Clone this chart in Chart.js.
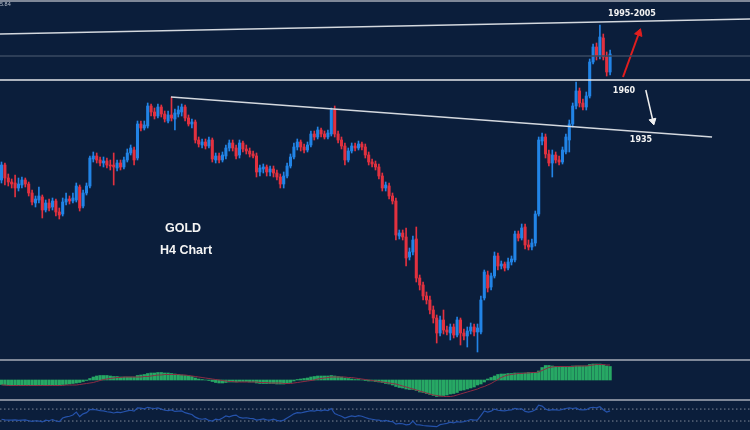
<!DOCTYPE html>
<html><head><meta charset="utf-8">
<script src="https://cdn.jsdelivr.net/npm/chart.js@4.4.0/dist/chart.umd.min.js"></script>
<style>
html,body{margin:0;padding:0;background:#0b1e3b;width:750px;height:430px;overflow:hidden;}
#wrap{position:relative;width:750px;height:430px;background:#0b1e3b;}
canvas{position:absolute;left:0;}
.sep{position:absolute;left:0;width:750px;height:2px;background:#7f8898;}
.lbl{position:absolute;color:#f2f2f2;font-family:"DejaVu Sans",sans-serif;font-weight:bold;font-size:8px;white-space:nowrap;line-height:1;transform:translateX(-50%);}
.big{position:absolute;color:#f4f4f4;font-family:"Liberation Sans",Arial,sans-serif;font-weight:bold;font-size:12.5px;white-space:nowrap;line-height:1;transform:translateX(-50%);}
.px{position:absolute;left:0;top:2px;color:#b9c0cc;font-family:"Liberation Sans",Arial,sans-serif;font-size:5.5px;line-height:1;}
</style></head>
<body><div id="wrap">
<div class="sep" style="top:0"></div>
<canvas id="main" width="750" height="357" style="top:2px"></canvas>
<div class="sep" style="top:359px"></div>
<canvas id="macd" width="750" height="38" style="top:361px"></canvas>
<div class="sep" style="top:399px"></div>
<canvas id="rsi" width="750" height="29" style="top:401px"></canvas>
<div class="px">5.84</div>
<div class="lbl" style="left:632px;top:10px">1995-2005</div>
<div class="lbl" style="left:624px;top:87px">1960</div>
<div class="lbl" style="left:641px;top:135.5px">1935</div>
<div class="big" style="left:183px;top:221.7px">GOLD</div>
<div class="big" style="left:186px;top:244.4px">H4 Chart</div>
</div>
<script>
// ---- price data (H4 candles) ----
const open = [
1910,1917.5,1911,1909,1908.5,1906,1907.5,1910,1908,1903.5,
1898.5,1900,1901.5,1895,1898.5,1896.5,1899.5,1894,1893,1899,
1900.5,1899.5,1900,1906.5,1897,1903.5,1907,1920.5,1922,1920,
1918.5,1919.5,1917.5,1917.5,1916,1918.5,1916.5,1920,1923.5,1925,
1921,1938,1936,1937,1947,1944,1942,1946.5,1943,1939.5,
1942.5,1940.5,1943,1944,1946.5,1941,1938,1939,1930,1927.5,
1929,1927,1930,1920,1922,1920,1922,1926,1928.5,1926,
1922.5,1928.5,1925.5,1924.5,1923,1922,1914,1915.5,1916.5,1914,
1915.5,1913.5,1911.5,1908,1912,1917,1921.5,1926.5,1929,1926.5,
1925,1927.5,1933,1931.5,1935,1933,1931.5,1933,1945,1933,
1930,1927,1920,1924.5,1927,1926,1928,1926.5,1922.5,1919,
1918,1916.5,1912,1906,1907,1902,1899.5,1882,1883.5,1881.5,
1871.5,1874,1880.5,1861,1857.5,1852,1850,1845,1841,1833.5,
1840,1835,1833.5,1836.5,1832.5,1840,1833.5,1832,1834.5,1836.5,
1834,1834,1851,1862.5,1856.5,1862,1872,1867,1868,1866,
1869,1870,1883,1881,1886.5,1877.5,1876.5,1878.5,1893,1929.5,
1931.5,1923,1918.5,1922.5,1920,1919,1924,1930,1938,1947,
1954.5,1948.5,1946.5,1952,1969,1976.5,1972,1981,1971.5,1964];
const high = [
1919,1918.5,1913,1910.5,1912.5,1911,1911.5,1911,1909,1905,
1902,1906.5,1902.5,1900,1900.5,1901,1900.5,1896,1901,1903.5,
1902,1903.5,1908.5,1907.5,1905,1908.5,1922,1924,1923.5,1921.5,
1921.5,1921,1920,1923.5,1920,1920,1921.5,1925.5,1927.5,1926.5,
1939.5,1939.5,1939.5,1948.5,1948,1946,1948,1947.5,1944.5,1944.5,
1951.5,1945.5,1947,1948,1947.5,1942.5,1940.5,1940,1931.5,1930.5,
1930.5,1931.5,1931,1923.5,1923.5,1924,1927.5,1930,1930,1927.5,
1930,1929.5,1927.5,1926,1924.5,1923.5,1917.5,1918,1917.5,1917,
1917,1915,1913,1914,1918.5,1923,1928.5,1930.5,1930,1928,
1929,1934.5,1934.5,1936.5,1936,1934.5,1935,1946,1947,1934.5,
1931.5,1928.5,1926,1928.5,1928.5,1929.5,1929,1928,1924,1920.5,
1919.5,1918,1913.5,1909,1908.5,1903.5,1901,1885,1885,1886,
1876,1882,1886.5,1862.5,1859,1854,1852,1847,1842.5,1842,
1845,1837,1838,1838,1841.5,1841,1835.5,1836.5,1838.5,1838,
1838,1852,1865,1864.5,1863.5,1874,1873.5,1869.5,1869,1871,
1872,1884.5,1884.5,1888,1888,1880,1880.5,1894.5,1931.5,1933.5,
1933,1925,1925,1924,1922,1926.5,1933,1940,1948.5,1959,
1956,1950.5,1954,1970.5,1978,1978.5,1987.5,1983,1974,1975];
const low = [
1908.5,1907.5,1907,1906,1901.5,1904.5,1906,1906.5,1902,1897.5,
1896.5,1898.5,1891,1894,1894.5,1895,1892,1890.5,1892,1897.5,
1898,1898.5,1899,1894.5,1896,1902.5,1906,1919,1918.5,1917,
1916.5,1916,1915,1907.5,1914.5,1915,1915.5,1919,1922.5,1917.5,
1920,1934.5,1935,1936,1942,1940.5,1941,1941.5,1939,1938.5,
1939.5,1935,1941.5,1942,1939.5,1937,1936,1928.5,1926.5,1926,
1925.5,1926,1919,1918.5,1918.5,1919,1920.5,1924.5,1924.5,1920.5,
1921,1924,1923,1921.5,1921,1911.5,1912,1913.5,1912,1912,
1911.5,1910,1906,1906,1911,1916,1920.5,1925,1924.5,1923.5,
1924,1926.5,1930,1930.5,1931.5,1930.5,1930.5,1932,1931.5,1928.5,
1925.5,1917.5,1919,1923.5,1924.5,1925,1925,1921,1917.5,1916.5,
1915,1910.5,1904.5,1904.5,1900.5,1898,1880,1880.5,1880,1867,
1870,1872.5,1859,1855,1850,1848,1843,1838.5,1828.5,1832,
1833,1832.5,1830,1831,1831.5,1827.5,1830,1826.5,1833,1832,
1824,1833,1850,1854,1855,1861,1865,1865.5,1864.5,1865,
1867.5,1869,1879.5,1880,1875.5,1875,1875,1877,1892,1927.5,
1921,1917,1911.5,1918.5,1917.5,1918,1923,1924,1936.5,1945.5,
1946.5,1945,1945,1951,1968,1970,1970.5,1970,1962,1962.5];
const close = [
1917.5,1911,1909,1908,1906,1908,1910,1908,1903.5,1899,
1900.5,1902,1895,1898.5,1896,1899.5,1894,1892.5,1899,1900.5,
1899.5,1901,1907,1896,1903.5,1907,1921,1922,1920,1918.5,
1919.5,1917.5,1917,1916.5,1918.5,1916.5,1920,1923.5,1926,1920,
1938,1936,1937.5,1947,1944,1942,1946.5,1943,1940.5,1942.5,
1941,1943.5,1945,1946.5,1941,1938,1939,1930,1928,1929,
1927,1930,1920.5,1922,1920,1922.5,1926,1928.5,1926,1922,
1928.5,1925.5,1924.5,1923,1922,1914,1916,1916.5,1914,1915.5,
1913.5,1911.5,1908,1912,1917,1921.5,1926.5,1929,1926.5,1925,
1927.5,1933,1931.5,1935,1933,1931.5,1933.5,1945,1933,1930,
1927,1920,1924.5,1927,1926,1928,1926.5,1922.5,1919,1918,
1916.5,1912,1906,1907.5,1902,1899.5,1882.5,1883.5,1881.5,1871,
1874,1880,1861,1857.5,1852,1850,1845,1841,1833.5,1840,
1835,1834,1836.5,1832.5,1840,1833.5,1832,1834.5,1836.5,1834,
1836,1850,1864,1856,1862,1872,1867,1868,1866,1869,
1870.5,1883,1881,1886,1877.5,1876.5,1878.5,1893,1930,1931.5,
1923,1918.5,1922.5,1920,1919,1925,1931.5,1938,1947,1954.5,
1948.5,1946.5,1952,1969,1976.5,1972,1981.5,1971.5,1964,1973];

// ---- MACD panel ----
const macdHist = [
-4.5,-5,-5,-5.5,-5,-5,-5.5,-5,-5,-5.5,
-5.5,-5,-5,-5.5,-5,-5,-5,-5,-4.5,-4.5,
-4,-3.5,-3,-2.5,-1.5,-0.5,1.5,3,4,4.5,
4.5,4.5,4,3.5,3.5,3,3,3,3,3,
4.5,5,5.5,6.5,7,7,7.5,7.5,7,7,
6.5,6,5.5,5,4.5,4,3.5,2,1,0.5,
0,-0.5,-1.5,-2.5,-3,-3,-2.5,-2,-2,-2,
-1.5,-1.5,-1.5,-2,-2,-3,-3.5,-3.5,-3.5,-3.5,
-3.5,-4,-4,-4,-3.5,-2.5,-1,0.5,1,1.5,
2,3,3.5,4,4,4,4,4.5,4,3.5,
3,2,1.5,1,0.5,0.5,0,-0.5,-1,-1,
-1.5,-2,-2.5,-3.5,-4,-5,-6.5,-7.5,-8,-9,
-9.5,-9.5,-10.5,-12,-12.5,-13.5,-14.5,-15.5,-16.5,-16,
-15.5,-15,-14,-13.5,-12.5,-10.5,-10,-9,-8,-7,
-5,-4,-2,1,2.5,4,5.5,6,6,6.5,
6.5,7,7,7,7,7.5,7,7.5,9,12.5,
14.5,14.5,14,13.5,13.5,13.5,13.5,13.5,14,14,
14,14,14,15.5,16,16,16,15,14,13.5];
const macdSignal = [
-5,-5,-5.5,-5.5,-5.5,-5.5,-5.5,-5.5,-5.5,-5.5,
-5.5,-5.5,-5.5,-5.5,-5.5,-5.5,-5.5,-5.5,-5.5,-5,
-5,-5,-5,-4.5,-4,-3.5,-3,-2.5,-1.5,-0.5,
0.5,1,1.5,2,2.5,2.5,3,3,3,3,
3,3,3.5,3.5,4,4.5,5,5,5.5,5.5,
5.5,5.5,5.5,5,5,4.5,4,3.5,3,2.5,
2,1.5,1,0.5,0,-0.5,-1,-1.5,-1.5,-2,
-2,-2,-2,-2,-2,-2,-2.5,-2.5,-2.5,-3,
-3,-3,-3,-3.5,-3.5,-3.5,-3,-2.5,-2,-1.5,
-1,-0.5,0,1,1.5,2,2.5,3,3,3,
3,3,2.5,2.5,2,1.5,1,0.5,0,-0.5,
-1,-1.5,-2,-2.5,-3,-3.5,-4,-5,-6,-7,
-8,-9,-10,-11,-12,-13,-14,-15,-15.5,-16,
-16.5,-16.5,-16.5,-16,-15,-14,-13,-12,-11,-10,
-9,-7.5,-6.5,-5,-3.5,-1.5,0.5,2.5,4,5,
5.5,6,6.5,6.5,7,7,7.5,7.5,8,9.5,
11,12.5,13,13.5,13.5,13.5,13.5,13.5,13.5,14,
14,14,14,14.5,15,15.5,15.5,15.5,15,15];

// ---- RSI panel ----
const rsi = [
36,34,33,33,34,32,33,34,31,29,
31,30,27,33,31,35,30,28,40,44,
46,50,60,45,54,58,68,69,67,65,
64,61,60,57,60,58,61,64,66,63,
74,73,71,76,73,72,74,70,66,65,
67,62,63,64,58,55,52,43,38,36,
38,32,30,36,34,40,47,44,48,50,
42,40,41,39,38,33,35,37,34,33,
36,32,30,33,40,47,54,58,57,60,
62,65,63,66,64,67,65,72,55,50,
46,40,44,47,45,48,46,42,38,36,
34,33,30,32,29,28,20,22,21,17,
19,30,18,17,15,14,13,12,11,18,
20,22,26,24,28,26,28,31,35,33,
34,48,64,60,63,70,66,65,64,66,
67,72,70,71,62,60,62,68,83,80,
70,66,68,67,66,69,72,74,72,74,
68,67,68,74,76,74,78,68,60,64];
const rsiLevels = [70, 30];

// ---- drawn levels / trend lines (bar index, price) ----
const upperChannel = [1983, 1990.5];          // at left edge, right edge
const midLevel = 1972;
const supportLevel = 1960;
const trendIdx = [49.85, 209];
const trendPrice = [1951.5, 1931.5];
const arrowUpIdx = [182.8, 187.5];
const arrowUpPrice = [1961.5, 1983.5];
const arrowDownIdx = [189.5, 191.6];
const arrowDownPrice = [1955, 1939.5];

// ---- view / style ----
const X_MIN = -0.44, X_MAX = 220.15;
const BLUE = '#2284e6', RED = '#e2313f';
const N = open.length;
const idx = Array.from({length: N}, (_, i) => i);
const candleColor = idx.map(i => close[i] >= open[i] ? BLUE : RED);

const baseOpts = (ymin, ymax) => ({
  responsive: false, animation: false, devicePixelRatio: 1, events: [],
  layout: {padding: 0, autoPadding: false},
  plugins: {legend: {display: false}, tooltip: {enabled: false}},
  scales: {
    x: {type: 'linear', min: X_MIN, max: X_MAX, display: false, offset: false},
    y: {type: 'linear', min: ymin, max: ymax, display: false}
  }
});

const lineDs = (pts, color, width, extra) => Object.assign({
  type: 'line', data: pts, borderColor: color, borderWidth: width,
  pointRadius: 0, tension: 0, fill: false, order: 0, clip: false
}, extra || {});

new Chart(document.getElementById('main'), {
  type: 'bar',
  data: {datasets: [
    {data: idx.map(i => ({x: i, y: [low[i], high[i]]})), backgroundColor: candleColor,
     barThickness: 1, grouped: false, order: 3, borderWidth: 0},
    {data: idx.map(i => ({x: i, y: [open[i], close[i]]})), backgroundColor: candleColor,
     barThickness: 2.4, minBarLength: 1, grouped: false, order: 2, borderWidth: 0},
    lineDs([{x: X_MIN, y: upperChannel[0]}, {x: X_MAX, y: upperChannel[1]}], '#d4d8de', 1.5),
    lineDs([{x: X_MIN, y: midLevel}, {x: X_MAX, y: midLevel}], '#3a4a62', 1.5),
    lineDs([{x: X_MIN, y: supportLevel}, {x: X_MAX, y: supportLevel}], '#e4e6ea', 1.5),
    lineDs([{x: trendIdx[0], y: trendPrice[0]}, {x: trendIdx[1], y: trendPrice[1]}], '#d4d8de', 1.5),
    lineDs([{x: arrowUpIdx[0], y: arrowUpPrice[0]}, {x: arrowUpIdx[1], y: arrowUpPrice[1]}], '#e01e1e', 2,
      {pointRadius: [0, 4.5], pointStyle: 'triangle', pointRotation: [0, 19.5],
       pointBackgroundColor: '#e01e1e', pointBorderColor: '#e01e1e', pointBorderWidth: 1}),
    lineDs([{x: arrowDownIdx[0], y: arrowDownPrice[0]}, {x: arrowDownIdx[1], y: arrowDownPrice[1]}], '#f0f0f0', 1.5,
      {pointRadius: [0, 4], pointStyle: 'triangle', pointRotation: [0, 166.8],
       pointBackgroundColor: '#f0f0f0', pointBorderColor: '#f0f0f0', pointBorderWidth: 1})
  ]},
  options: baseOpts(1820.5, 1999)
});

new Chart(document.getElementById('macd'), {
  type: 'bar',
  data: {datasets: [
    lineDs(idx.map(i => ({x: i, y: macdSignal[i]})), '#8e2c44', 1),
    {data: idx.map(i => ({x: i, y: macdHist[i]})), backgroundColor: '#27a864',
     barThickness: 2.6, order: 1, borderWidth: 0}
  ]},
  options: baseOpts(-19, 19)
});

new Chart(document.getElementById('rsi'), {
  type: 'line',
  data: {datasets: [
    lineDs([{x: X_MIN, y: rsiLevels[0]}, {x: X_MAX, y: rsiLevels[0]}], '#7f8898', 1, {borderDash: [1.5, 2.5], order: 1}),
    lineDs([{x: X_MIN, y: rsiLevels[1]}, {x: X_MAX, y: rsiLevels[1]}], '#7f8898', 1, {borderDash: [1.5, 2.5], order: 1}),
    lineDs(idx.map(i => ({x: i, y: rsi[i]})), '#2552aa', 1.2)
  ]},
  options: baseOpts(0, 97)
});
</script>
</body></html>
